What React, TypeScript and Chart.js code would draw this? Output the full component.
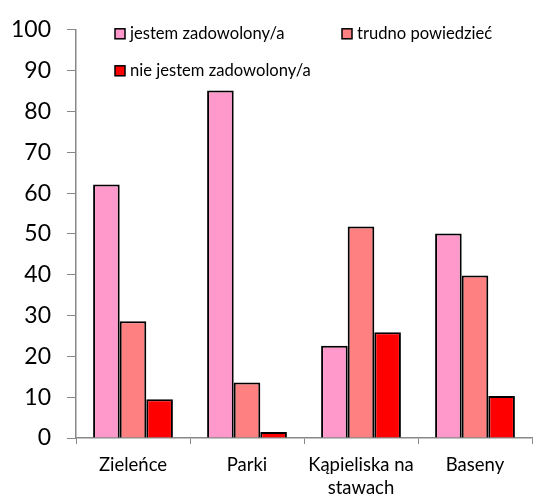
import React, { useEffect, useRef } from "react";
import { Chart, registerables } from "chart.js";

Chart.register(...registerables);

const categories: (string | string[])[] = ["Zieleńce", "Parki", ["Kąpieliska na", "stawach"], "Baseny"];
const seriesNames = ["jestem zadowolony/a", "trudno powiedzieć", "nie jestem zadowolony/a"];
const satisfied = [62.1, 85.1, 22.6, 50.1];
const hardToSay = [28.6, 13.6, 51.8, 39.8];
const notSatisfied = [9.5, 1.5, 25.9, 10.3];
const colors = ["#FF99CC", "#FF8080", "#FF0000"];
const yTicks = [0, 10, 20, 30, 40, 50, 60, 70, 80, 90, 100];

const FONT = "Lato, 'Open Sans', sans-serif";
const AXIS = "#888888";

const legendPlugin = {
  id: "gridLegend",
  afterDraw(chart: any) {
    const { ctx, chartArea } = chart;
    ctx.save();
    ctx.font = `16.6px ${FONT}`;
    ctx.textBaseline = "middle";
    ctx.textAlign = "left";
    chart.data.datasets.forEach((ds: any, i: number) => {
      const row = i < 2 ? 0 : 1;
      const col = i < 2 ? i : 0;
      const x = chartArea.left + 39 + col * 227;
      const y = chartArea.top + 4 + row * 37;
      ctx.fillStyle = ds.backgroundColor;
      ctx.fillRect(x, y - 5, 10, 10);
      ctx.lineWidth = 1.5;
      ctx.strokeStyle = "#000";
      ctx.strokeRect(x, y - 5, 10, 10);
      ctx.fillStyle = "#000";
      ctx.fillText(ds.label, x + 15, y);
    });
    ctx.restore();
  },
};

export default function App() {
  const ref = useRef<HTMLCanvasElement | null>(null);
  useEffect(() => {
    document.body.style.margin = "0";
    if (!ref.current) return;
    const data = [satisfied, hardToSay, notSatisfied];
    const chart = new Chart(ref.current, {
      type: "bar",
      data: {
        labels: categories,
        datasets: seriesNames.map((name, i) => ({
          label: name,
          data: data[i],
          backgroundColor: colors[i],
          borderColor: "#000000",
          borderWidth: 2,
          barPercentage: 1,
          categoryPercentage: 0.7,
        })),
      },
      options: {
        responsive: false,
        animation: false,
        layout: { padding: { top: 29, right: 5, left: 0, bottom: 0 } },
        plugins: { legend: { display: false }, tooltip: { enabled: false } },
        scales: {
          x: {
            grid: { display: true, drawOnChartArea: false, drawTicks: true, tickLength: 6, color: AXIS, offset: true },
            border: { color: AXIS, width: 1.5 },
            ticks: { color: "#000", font: { family: FONT, size: 18.5, lineHeight: 1.25 }, padding: 9, maxRotation: 0, autoSkip: false },
            afterFit(scale: any) { scale.height = 60; },
          },
          y: {
            min: 0,
            max: 100,
            afterBuildTicks(scale: any) { scale.ticks = yTicks.map((v) => ({ value: v })); },
            grid: { display: true, drawOnChartArea: false, drawTicks: true, tickLength: 9, color: AXIS },
            border: { color: AXIS, width: 1.5 },
            ticks: { color: "#000", font: { family: FONT, size: 23 }, padding: 16 },
            afterFit(scale: any) { scale.width = 76; },
          },
        },
      },
      plugins: [legendPlugin],
    });
    return () => chart.destroy();
  }, []);
  return (
    <div style={{ width: 537, height: 498 }}>
      <canvas ref={ref} width={537} height={498} style={{ display: "block" }} />
    </div>
  );
}
